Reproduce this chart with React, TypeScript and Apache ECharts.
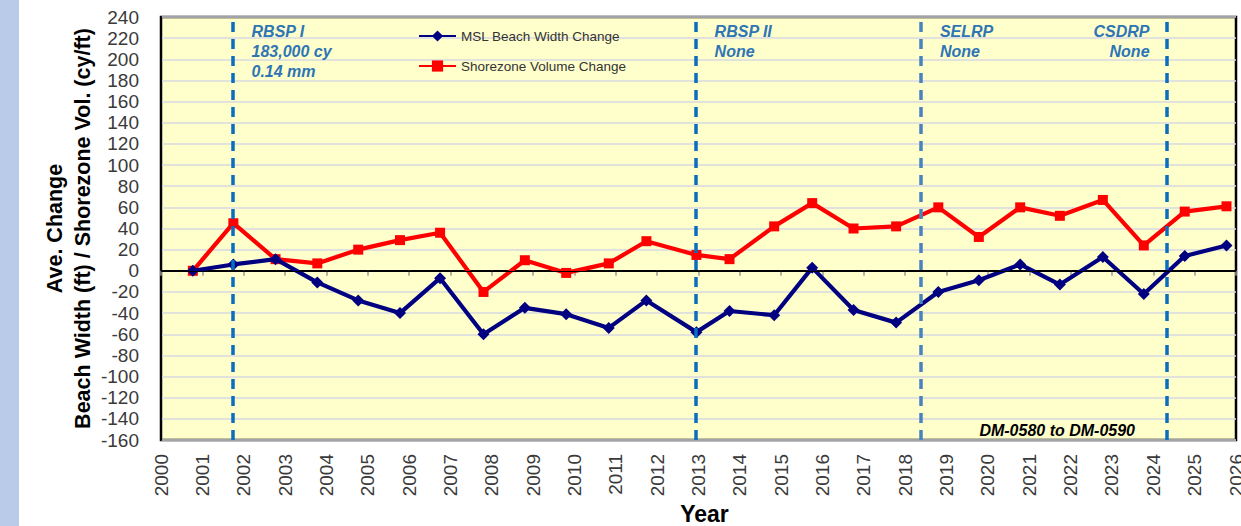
import React, { useEffect, useRef } from "react";
import * as echarts from "echarts";

// Survey dates (decimal years)
const surveyYears = [
  2000.77, 2001.75, 2002.77, 2003.78, 2004.77, 2005.78, 2006.75, 2007.8,
  2008.8, 2009.8, 2010.83, 2011.74, 2012.95, 2013.75, 2014.83, 2015.75,
  2016.75, 2017.78, 2018.8, 2019.78, 2020.78, 2021.74, 2022.78, 2023.77,
  2024.76, 2025.77,
];
// MSL Beach Width Change (ft)
const beachWidth = [
  0, 6, 11, -11, -28, -40, -7, -60, -35, -41, -54, -28, -58, -38, -42, 3, -37,
  -49, -20, -9, 6, -13, 13, -22, 14, 24,
];
// Shorezone Volume Change (cy/ft)
const shoreVolume = [
  0, 45, 11, 7, 20, 29, 36, -20, 10, -2, 7, 28, 15, 11, 42, 64, 40, 42, 60, 32,
  60, 52, 67, 24, 56, 61,
];
// Nourishment events
const eventYears = [2001.73, 2012.93, 2018.38, 2024.32];
const eventLabels = [
  ["RBSP I", "183,000 cy", "0.14 mm"],
  ["RBSP II", "None"],
  ["SELRP", "None"],
  ["CSDRP", "None"],
];
const eventLabelSide = ["right", "right", "right", "left"];
const seriesNames = ["MSL Beach Width Change", "Shorezone Volume Change"];
const reachLabel = "DM-0580 to DM-0590";
const xMin = 2000;
const xMax = 2026;
const yMin = -160;
const yMax = 240;

const FONT = '"Liberation Sans", Arial, sans-serif';

export default function App() {
  const ref = useRef<HTMLDivElement>(null);

  useEffect(() => {
    if (!ref.current) return;
    const chart = echarts.init(ref.current, null, { renderer: "svg" });

    const eventColors = ["#0A6EBE", "#0A6EBE", "#4A82C0", "#0A6EBE"];

    chart.setOption({
      animation: false,
      backgroundColor: "#FFFFFF",
      grid: {
        left: 161,
        right: 5,
        top: 17,
        bottom: 86,
        show: true,
        backgroundColor: "#FFFFCC",
        borderColor: "#000000",
        borderWidth: 2.5,
        containLabel: false,
        outerBoundsMode: "none",
      },
      legend: {
        orient: "vertical",
        left: 418,
        top: 29,
        padding: 0,
        itemWidth: 37,
        itemHeight: 14,
        itemGap: 16,
        data: seriesNames,
        textStyle: {
          fontFamily: FONT,
          fontSize: 13.5,
          color: "#333333",
          lineHeight: 14,
        },
      },
      xAxis: {
        type: "value",
        min: xMin,
        max: xMax,
        interval: 1,
        axisLine: { show: true, lineStyle: { color: "#000000", width: 2 } },
        axisTick: { show: true, length: 5, lineStyle: { color: "#9A9A9A", width: 1.5 } },
        splitLine: { show: false },
        axisLabel: {
          rotate: 90,
          margin: 14,
          fontFamily: FONT,
          fontSize: 19,
          color: "#3A3A3A",
          showMinLabel: true,
          showMaxLabel: true,
          formatter: (v: number) => String(v),
        },
      },
      yAxis: {
        type: "value",
        min: yMin,
        max: yMax,
        interval: 20,
        axisLine: { show: true, lineStyle: { color: "#000000", width: 2 } },
        axisTick: { show: false },
        splitLine: { show: true, lineStyle: { color: "#D8D8E2", width: 1.5 } },
        axisLabel: {
          margin: 22,
          fontFamily: FONT,
          fontSize: 19,
          color: "#3A3A3A",
        },
      },
      series: [
        {
          name: "events",
          type: "line",
          data: [],
          silent: true,
          z: 1,
          markLine: {
            silent: true,
            symbol: "none",
            label: { show: false },
            animation: false,
            data: [
              {
                yAxis: 0,
                lineStyle: { color: "#000000", width: 1.2, type: "solid" },
              },
              ...eventYears.map((yr, i) => ({
                xAxis: yr,
                lineStyle: { color: eventColors[i], width: 3.5, type: [10, 7] },
              })),
            ],
          },
        },
        {
          name: seriesNames[1],
          type: "line",
          data: surveyYears.map((x, i) => [x, shoreVolume[i]]),
          symbol: "rect",
          symbolSize: 10,
          color: "#FF0000",
          lineStyle: { color: "#FF0000", width: 4.2 },
          itemStyle: { color: "#FF0000" },
          z: 3,
        },
        {
          name: seriesNames[0],
          type: "line",
          data: surveyYears.map((x, i) => [x, beachWidth[i]]),
          symbol: "diamond",
          symbolSize: 12,
          color: "#000080",
          lineStyle: { color: "#000080", width: 4.2 },
          itemStyle: { color: "#000080" },
          z: 4,
        },
      ],
    });

    const px = (x: number, y: number) =>
      chart.convertToPixel({ xAxisIndex: 0, yAxisIndex: 0 }, [x, y]) as number[];
    const [plotLeft, plotTop] = px(xMin, yMax);
    const [plotRight, plotBottom] = px(xMax, yMin);

    const graphics: any[] = [
      {
        type: "rect",
        shape: { x: 0, y: 0, width: 19, height: 526 },
        style: { fill: "#B9CBE9" },
        silent: true,
      },
    ];

    eventYears.forEach((yr, i) => {
      const lx = px(yr, 0)[0];
      const right = eventLabelSide[i] === "right";
      graphics.push({
        type: "text",
        x: right ? lx + 19 : lx - 17,
        y: plotTop + 4.5,
        silent: true,
        style: {
          text: eventLabels[i].join("\n"),
          fill: "#2E75B6",
          font: `italic bold 16px ${FONT}`,
          lineHeight: 20,
          textAlign: right ? "left" : "right",
          textVerticalAlign: "top",
        },
      });
    });

    graphics.push({
      type: "text",
      x: plotRight - 101,
      y: plotBottom - 9.5,
      silent: true,
      style: {
        text: reachLabel,
        fill: "#000000",
        font: `italic bold 16px ${FONT}`,
        textAlign: "right",
        textVerticalAlign: "middle",
      },
    });

    graphics.push({
      type: "text",
      x: 69,
      y: (plotTop + plotBottom) / 2,
      rotation: Math.PI / 2,
      silent: true,
      style: {
        text: "Ave. Change\nBeach Width (ft) / Shorezone Vol. (cy/ft)",
        fill: "#000000",
        font: `bold 21.5px ${FONT}`,
        lineHeight: 28,
        textAlign: "center",
        textVerticalAlign: "middle",
      },
    });

    graphics.push({
      type: "text",
      x: (plotLeft + plotRight) / 2 + 6,
      y: 514,
      silent: true,
      style: {
        text: "Year",
        fill: "#000000",
        font: `bold 23px ${FONT}`,
        textAlign: "center",
        textVerticalAlign: "middle",
      },
    });

    chart.setOption({ graphic: graphics });

    return () => chart.dispose();
  }, []);

  return (
    <div
      ref={ref}
      style={{ position: "fixed", left: 0, top: 0, width: 1241, height: 526 }}
    />
  );
}
